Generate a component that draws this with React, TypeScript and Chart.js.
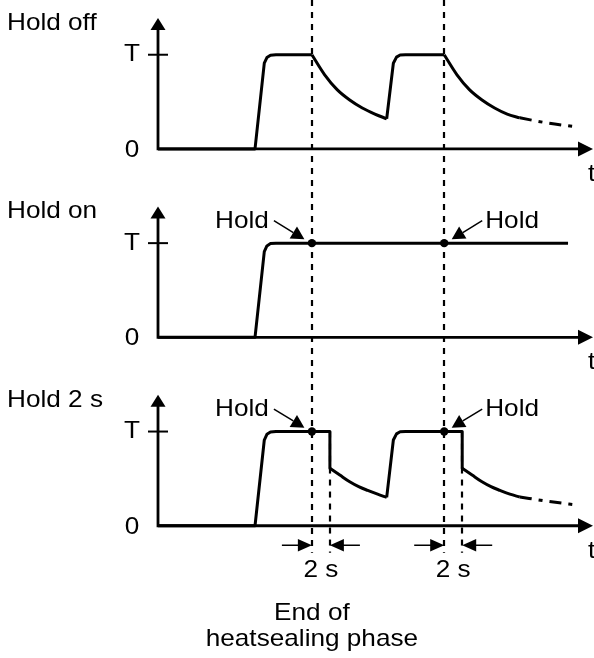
import { useEffect, useRef } from "react";
import { Chart, registerables } from "chart.js";

Chart.register(...registerables);

type Pt = [number, number];

// ---- text ----
const PANEL_TITLES = ["Hold off", "Hold on", "Hold 2 s"];
const Y_TICK_LABELS = ["0", "T"];
const X_AXIS_LABEL = "t";
const HOLD_LABEL = "Hold";
const GAP_LABEL = "2 s";
const FOOTER_LINES = ["End of", "heatsealing phase"];

// ---- time values (s), normalised temperature (T = 1) ----
const HOLD_ENDS = [17.1, 31.8]; // end of heatsealing phase
const HOLD_EXTRA = 2; // "Hold 2 s"
const HOLD_PANELS = [1, 2]; // panels showing the Hold marker

// Panel 0 : Hold off
const OFF_RISE1: Pt[] = [[0, 0], [10.78, 0], [11.81, 0.91], [12.1, 0.97], [12.5, 0.995], [13.1, 1], [17.1, 1]];
const OFF_DECAY1: Pt[] = [[17.1, 1], [18.5, 0.79], [19.9, 0.63], [21.3, 0.52], [22.7, 0.435], [24.1, 0.37], [25.41, 0.32]];
const OFF_RISE2: Pt[] = [[25.41, 0.32], [26.15, 0.91], [26.5, 0.975], [26.9, 0.997], [27.5, 1], [31.8, 1]];
const OFF_DECAY2: Pt[] = [[31.8, 1], [33.2, 0.79], [34.6, 0.63], [36.0, 0.52], [37.4, 0.435], [38.8, 0.37], [40.2, 0.33]];
const OFF_TAIL: Pt[] = [[40.2, 0.33], [43.3, 0.275], [46.56, 0.234]];

// Panel 1 : Hold on
const ON_LINE: Pt[] = [[0, 0], [10.78, 0], [11.81, 0.91], [12.1, 0.97], [12.5, 0.995], [13.1, 1], [45.56, 1]];

// Panel 2 : Hold 2 s
const TWO_RISE1: Pt[] = [[0, 0], [10.78, 0], [11.81, 0.91], [12.1, 0.97], [12.5, 0.995], [13.1, 1], [19.1, 1], [19.1, 0.61]];
const TWO_DECAY1: Pt[] = [[19.1, 0.61], [20.2, 0.538], [21.3, 0.467], [22.3, 0.415], [23.3, 0.375], [24.4, 0.335], [25.41, 0.301]];
const TWO_RISE2: Pt[] = [[25.41, 0.301], [26.15, 0.91], [26.5, 0.975], [26.9, 0.997], [27.5, 1], [33.8, 1], [33.8, 0.61]];
const TWO_DECAY2: Pt[] = [[33.8, 0.61], [34.9, 0.538], [36.0, 0.467], [37.0, 0.415], [38.0, 0.375], [39.1, 0.335], [40.2, 0.305]];
const TWO_TAIL: Pt[] = [[40.2, 0.305], [43.3, 0.26], [46.56, 0.22]];

type Kind = "line" | "curve" | "tail";
const SERIES: { panel: number; pts: Pt[]; kind: Kind }[] = [
  { panel: 0, pts: OFF_RISE1, kind: "line" },
  { panel: 0, pts: OFF_DECAY1, kind: "curve" },
  { panel: 0, pts: OFF_RISE2, kind: "line" },
  { panel: 0, pts: OFF_DECAY2, kind: "curve" },
  { panel: 0, pts: OFF_TAIL, kind: "tail" },
  { panel: 1, pts: ON_LINE, kind: "line" },
  { panel: 2, pts: TWO_RISE1, kind: "line" },
  { panel: 2, pts: TWO_DECAY1, kind: "curve" },
  { panel: 2, pts: TWO_RISE2, kind: "line" },
  { panel: 2, pts: TWO_DECAY2, kind: "curve" },
  { panel: 2, pts: TWO_TAIL, kind: "tail" },
];

// ---- layout (scale ranges) ----
const W = 594;
const H = 658;
const PANEL_OFFSET = [4, 2, 0];
const X_MIN = -17.556;
const X_MAX = 48.444;
const Y_MIN = -1.404;
const Y_MAX = 5.581;
const X_ARROW_END = 48.33;
const Y_ARROW_TOP = 1.39;

const FONT = "24px 'Liberation Sans', Arial, sans-serif";
const STRETCH = 1.09;

function text(ctx: CanvasRenderingContext2D, s: string, x: number, y: number, align: CanvasTextAlign) {
  ctx.save();
  ctx.translate(x, y);
  ctx.scale(STRETCH, 1);
  ctx.font = FONT;
  ctx.fillStyle = "#000";
  ctx.textAlign = align;
  ctx.textBaseline = "alphabetic";
  ctx.fillText(s, 0, 0);
  ctx.restore();
}

// filled arrow head; returns the base centre
function head(ctx: CanvasRenderingContext2D, tx: number, ty: number, fx: number, fy: number, len: number, hw: number) {
  const dx = tx - fx;
  const dy = ty - fy;
  const d = Math.hypot(dx, dy) || 1;
  const ux = dx / d;
  const uy = dy / d;
  const bx = tx - ux * len;
  const by = ty - uy * len;
  ctx.beginPath();
  ctx.moveTo(tx, ty);
  ctx.lineTo(bx - uy * hw, by + ux * hw);
  ctx.lineTo(bx + uy * hw, by - ux * hw);
  ctx.closePath();
  ctx.fill();
  return [bx, by];
}

const diagramPlugin = {
  id: "diagram",
  beforeDatasetsDraw(chart: any) {
    const ctx: CanvasRenderingContext2D = chart.ctx;
    const xs = chart.scales.x;
    const ys = chart.scales.y;
    const px = (t: number) => xs.getPixelForValue(t);
    const py = (p: number, v: number) => ys.getPixelForValue(v + PANEL_OFFSET[p]);
    ctx.save();
    ctx.strokeStyle = "#000";
    ctx.fillStyle = "#000";
    // dashed guide lines
    const bottom = py(2, 0) + 27;
    ctx.lineWidth = 2.2;
    ctx.setLineDash([6, 6]);
    HOLD_ENDS.forEach((t) => {
      ctx.beginPath();
      ctx.moveTo(Math.round(px(t)), 0);
      ctx.lineTo(Math.round(px(t)), bottom);
      ctx.stroke();
      ctx.beginPath();
      ctx.moveTo(Math.round(px(t + HOLD_EXTRA)), py(2, 1));
      ctx.lineTo(Math.round(px(t + HOLD_EXTRA)), bottom);
      ctx.stroke();
    });
    ctx.setLineDash([]);
    // axes
    for (let p = 0; p < 3; p++) {
      const ox = px(0);
      const oy = py(p, 0);
      const yTip = py(p, Y_ARROW_TOP);
      const xTip = px(X_ARROW_END);
      ctx.lineWidth = 2.8;
      ctx.lineJoin = "miter";
      ctx.beginPath();
      ctx.moveTo(ox, yTip + 10);
      ctx.lineTo(ox, oy);
      ctx.lineTo(xTip - 12, oy);
      ctx.stroke();
      head(ctx, ox, yTip, ox, oy, 12, 7.5);
      head(ctx, xTip, oy, ox, oy, 15, 7.5);
      // T tick
      ctx.lineWidth = 2;
      ctx.beginPath();
      ctx.moveTo(ox - 10, py(p, 1));
      ctx.lineTo(ox + 10, py(p, 1));
      ctx.stroke();
      // labels
      text(ctx, Y_TICK_LABELS[1], 132, py(p, 1) + 6.5, "center");
      text(ctx, Y_TICK_LABELS[0], 132, oy + 8, "center");
      text(ctx, X_AXIS_LABEL, 588, oy + 32, "left");
      text(ctx, PANEL_TITLES[p], 7, py(p, 0) - 119, "left");
    }
    ctx.restore();
  },
  afterDatasetsDraw(chart: any) {
    const ctx: CanvasRenderingContext2D = chart.ctx;
    const xs = chart.scales.x;
    const ys = chart.scales.y;
    const px = (t: number) => xs.getPixelForValue(t);
    const py = (p: number, v: number) => ys.getPixelForValue(v + PANEL_OFFSET[p]);
    ctx.save();
    ctx.strokeStyle = "#000";
    ctx.fillStyle = "#000";
    // Hold markers
    HOLD_PANELS.forEach((p) => {
      HOLD_ENDS.forEach((t, i) => {
        const dx = px(t);
        const dy = py(p, 1);
        ctx.beginPath();
        ctx.arc(dx, dy, 4.2, 0, Math.PI * 2);
        ctx.fill();
        const side = i === 0 ? -1 : 1;
        const sx = dx + side * 38;
        const sy = dy - 22.5;
        const tx = dx + side * 7.5;
        const ty = dy - 3.8;
        const [bx, by] = head(ctx, tx, ty, sx, sy, 13, 7);
        ctx.lineWidth = 1.5;
        ctx.beginPath();
        ctx.moveTo(sx, sy);
        ctx.lineTo(bx, by);
        ctx.stroke();
        if (i === 0) text(ctx, HOLD_LABEL, dx - 43, dy - 15.5, "right");
        else text(ctx, HOLD_LABEL, dx + 41, dy - 15.5, "left");
      });
    });
    // 2 s dimension arrows
    const ay = py(2, 0) + 19.5;
    HOLD_ENDS.forEach((t) => {
      const a = px(t);
      const b = px(t + HOLD_EXTRA);
      ctx.lineWidth = 1.6;
      ctx.beginPath();
      ctx.moveTo(a - 30, ay);
      ctx.lineTo(a - 12, ay);
      ctx.moveTo(b + 12, ay);
      ctx.lineTo(b + 30, ay);
      ctx.stroke();
      head(ctx, a, ay, a - 30, ay, 14, 6.2);
      head(ctx, b, ay, b + 30, ay, 14, 6.2);
      text(ctx, GAP_LABEL, (a + b) / 2, ay + 31.5, "center");
    });
    // footer
    const fx = px(HOLD_ENDS[0]);
    text(ctx, FOOTER_LINES[0], fx, py(2, 0) + 94.5, "center");
    text(ctx, FOOTER_LINES[1], fx, py(2, 0) + 120.5, "center");
    ctx.restore();
  },
};

export default function App() {
  const ref = useRef<HTMLCanvasElement | null>(null);
  useEffect(() => {
    if (!ref.current) return;
    const datasets = SERIES.map((s) => ({
      data: s.pts.map(([t, v]) => ({ x: t, y: v + PANEL_OFFSET[s.panel] })),
      borderColor: "#000",
      borderWidth: 3,
      pointRadius: 0,
      fill: false,
      borderJoinStyle: "round" as const,
      tension: 0,
      cubicInterpolationMode: (s.kind === "line" ? "default" : "monotone") as any,
      borderDash: s.kind === "tail" ? [12, 7, 4, 7] : [],
    }));
    const chart = new Chart(ref.current, {
      type: "line",
      data: { datasets },
      options: {
        animation: false,
        responsive: false,
        maintainAspectRatio: false,
        devicePixelRatio: 1,
        layout: { padding: 0 },
        events: [],
        scales: {
          x: { type: "linear", min: X_MIN, max: X_MAX, display: false },
          y: { type: "linear", min: Y_MIN, max: Y_MAX, display: false },
        },
        plugins: { legend: { display: false }, tooltip: { enabled: false } },
      },
      plugins: [diagramPlugin],
    });
    return () => chart.destroy();
  }, []);
  return (
    <div style={{ position: "fixed", left: 0, top: 0, width: W, height: H, background: "#fff" }}>
      <canvas ref={ref} width={W} height={H} style={{ display: "block", width: W, height: H }} />
    </div>
  );
}
